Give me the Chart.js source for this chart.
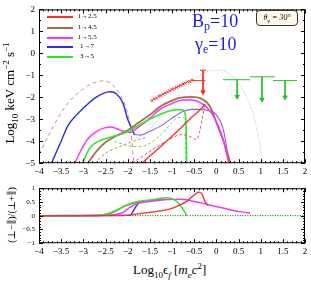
<!DOCTYPE html>
<html>
<head>
<meta charset="utf-8">
<script src="https://cdn.jsdelivr.net/npm/chart.js@4.4.0/dist/chart.umd.min.js"></script>
<style>
body { margin: 0; background: #fff; }
#wrap { position: relative; width: 311px; height: 284px; font-family: 'Liberation Serif', 'DejaVu Serif', serif; color: #000; overflow: hidden; }
#topChart { position: absolute; left: 0; top: 0; }
#botChart { position: absolute; left: 0; top: 180px; }
.lbl { position: absolute; white-space: nowrap; line-height: 1; }
.rot { transform: translate(-50%, -50%) rotate(-90deg); }
.leg { position: absolute; left: 47px; height: 9px; width: 60px; font-size: 7px; line-height: 1; }
.leg span.ln { position: absolute; left: 0; top: 3px; width: 26px; height: 2px; }
.leg span.tx { position: absolute; left: 29px; width: 22px; text-align: center; top: 0; }
.big { color: #1a1aff; font-size: 18px; }
.big sub { font-size: 12px; vertical-align: -3px; }
#theta { position: absolute; left: 256px; top: 10px; width: 40px; height: 14px; border: 1px solid #333; border-radius: 4px; background: #fdf8e8; font-size: 8px; font-style: italic; text-align: center; line-height: 14px; }
</style>
</head>
<body>
<div id="wrap">
  <canvas id="topChart" width="311" height="180"></canvas>
  <canvas id="botChart" width="311" height="80"></canvas>

  <div class="lbl rot" style="left:11px; top:93px; font-size:13px;">Log<sub style="font-size:9px">10</sub> keV cm<sup style="font-size:9px">−2</sup> s<sup style="font-size:9px">−1</sup></div>
  <div class="lbl rot" style="left:12px; top:215px; font-size:10px;">(⊥−∥)/(⊥+∥)</div>
  <div class="lbl" style="left:133px; top:262px; font-size:13px;">Log<sub style="font-size:9px">10</sub>ϵ<sub style="font-size:9px;font-style:italic">f</sub> [<i>m</i><sub style="font-size:9px;font-style:italic">e</sub><i>c</i><sup style="font-size:9px">2</sup>]</div>

  <div class="leg" style="top:13px"><span class="ln" style="background:#ff2a2a"></span><span class="tx">1→2.5</span></div>
  <div class="leg" style="top:24px"><span class="ln" style="background:#a86e40"></span><span class="tx">1→4.5</span></div>
  <div class="leg" style="top:34px"><span class="ln" style="background:#ff30ff"></span><span class="tx">1→5.5</span></div>
  <div class="leg" style="top:43px"><span class="ln" style="background:#2a2aff"></span><span class="tx">1→7</span></div>
  <div class="leg" style="top:53px"><span class="ln" style="background:#2ee82e"></span><span class="tx">3→5</span></div>

  <div class="lbl big" style="left:192px; top:12px;">B<sub>p</sub>=10</div>
  <div class="lbl big" style="left:195px; top:35px;">γ<sub>e</sub>=10</div>
  <div id="theta">θ<sub style="font-size:6px">v</sub> = 30°</div>
</div>

<script>
// top panel: log10 flux curves
const salmonDash = [[-4,-4.6],[-3.75,-3.6],[-3.5,-2.7],[-3.25,-2.05],[-3,-1.62],[-2.75,-1.33],[-2.55,-1.25],[-2.35,-1.42],[-2.15,-1.95],[-2.0,-2.75],[-1.92,-3.7],[-1.86,-5]];
const blueTop = [[-3.72,-5],[-3.5,-4.0],[-3.35,-3.3],[-3.15,-2.8],[-2.95,-2.4],[-2.75,-2.05],[-2.55,-1.82],[-2.4,-1.75],[-2.25,-1.85],[-2.1,-2.3],[-2.0,-3.0],[-1.9,-3.45],[-1.85,-3.7]];
const violetTop = [[-1.85,-3.7],[-1.7,-3.72],[-1.5,-3.55],[-1.25,-3.3],[-1,-2.95],[-0.75,-2.65],[-0.55,-2.55],[-0.35,-2.55],[-0.15,-2.62],[0,-2.8],[0.15,-3.4],[0.25,-4.5],[0.29,-5]];
const magentaTop = [[-3.19,-5],[-3.05,-4.4],[-2.9,-3.9],[-2.7,-3.55],[-2.5,-3.38],[-2.38,-3.35],[-2.25,-3.42],[-2.1,-3.55],[-1.95,-3.6],[-1.75,-3.35],[-1.5,-2.95],[-1.25,-2.52],[-1,-2.28],[-0.75,-2.12],[-0.55,-2.12],[-0.35,-2.25],[-0.15,-2.6],[0,-3.1],[0.15,-3.9],[0.28,-5]];
const brownTop = [[-2.9,-5],[-2.7,-4.45],[-2.5,-4.05],[-2.25,-3.75],[-2,-3.5],[-1.75,-3.15],[-1.5,-2.8],[-1.25,-2.4],[-1,-2.15],[-0.8,-2.02],[-0.55,-1.98],[-0.35,-2.05],[-0.15,-2.4],[0.02,-3.25],[0.18,-4.1],[0.32,-5]];
const brownDash = [[-2.75,-5],[-2.5,-4.55],[-2.25,-4.3],[-2.0,-4.1],[-1.8,-3.95],[-1.6,-3.85]];
const greenTop = [[-3.02,-5],[-2.85,-4.3],[-2.6,-3.95],[-2.35,-3.8],[-2.1,-3.65],[-1.85,-3.4],[-1.6,-3.1],[-1.35,-2.85],[-1.1,-2.65],[-0.9,-2.56],[-0.75,-2.58],[-0.7,-2.8],[-0.68,-3.5],[-0.67,-5]];
const greenDash = [[-2.3,-4.0],[-2.0,-4.2],[-1.75,-4.25],[-1.5,-4.1],[-1.25,-3.7],[-1,-3.15],[-0.85,-2.92],[-0.75,-2.92],[-0.7,-3.3],[-0.69,-5]];
const redTop = [[-1.68,-5],[-1.4,-4.5],[-1.1,-3.95],[-0.8,-3.4],[-0.55,-2.9],[-0.37,-2.58],[-0.25,-2.32]];
const redDash = [[-1.9,-5],[-1.6,-4.6],[-1.3,-4.2],[-1.0,-3.85],[-0.8,-3.7],[-0.6,-3.78],[-0.45,-3.92],[-0.38,-3.6],[-0.32,-3.0],[-0.27,-2.45]];
const greenDotted = [[-1.9,-3.95],[-1.6,-3.6],[-1.3,-3.0],[-1.0,-2.35],[-0.7,-1.6],[-0.4,-1.02],[-0.15,-0.8],[0.05,-0.77],[0.25,-0.88],[0.5,-1.38],[0.7,-2.1],[0.85,-2.9],[0.97,-4.0],[1.05,-5]];

// observed points
const obsX = [-1.45,-1.4,-1.35,-1.3,-1.25,-1.2,-1.15,-1.1,-1.05,-1.0,-0.95,-0.9,-0.85,-0.8,-0.75,-0.7,-0.65,-0.6,-0.55];
const obsY = [-2.15,-2.08,-2.04,-1.96,-1.92,-1.86,-1.8,-1.76,-1.7,-1.64,-1.6,-1.55,-1.5,-1.46,-1.4,-1.36,-1.3,-1.28,-1.22];
const redLimit = { x: -0.3, y: -1.24, xLo: -0.55, xHi: -0.25, yTop: -0.77, yArrow: -1.76 };
const greenLimX = [0.47, 1.03, 1.55];
const greenLimY = [-1.2, -1.07, -1.24];
const greenLimLo = [0.15, 0.76, 1.28];
const greenLimHi = [0.76, 1.32, 1.82];
const greenLimArrow = [-1.97, -2.1, -2.0];

// bottom panel: polarisation degree
const greenBot = [[-4,0],[-2.7,0.01],[-2.45,0.06],[-2.25,0.18],[-2.05,0.37],[-1.85,0.49],[-1.5,0.57],[-1.1,0.65],[-1.0,0.62],[-0.88,0.5],[-0.78,0.3],[-0.66,0]];
const brownBot = [[-4,0],[-2.7,0.01],[-2.45,0.07],[-2.25,0.2],[-2.05,0.36],[-1.85,0.46],[-1.5,0.54],[-1.2,0.6]];
const magentaBot = [[-4,0],[-2.6,0.01],[-2.3,0.04],[-2.1,0.12],[-1.95,0.3],[-1.8,0.43],[-1.5,0.52],[-1.1,0.59],[-0.8,0.6],[-0.5,0.52],[-0.2,0.41],[0.1,0.3],[0.35,0.2],[0.6,0.13],[0.76,0.1]];
const blueBot = [[-4,0],[-1.95,0.01],[-1.88,0.15],[-1.82,0.32],[-1.77,0.43]];
const redBot = [[-4,0],[-2.2,0],[-1.85,0.05],[-1.5,0.12],[-1.1,0.22],[-0.9,0.33],[-0.66,0.53],[-0.5,0.75],[-0.4,0.86],[-0.33,0.8],[-0.26,0.53],[-0.19,0.37]];
const zeroDotted = [[-1.95,0],[2,0]];

const xTicks = { min: -4, max: 2, step: 0.5 };

function pts(arr) { return arr.map(p => ({ x: p[0], y: p[1] })); }

function curve(arr, color, width, dash) {
    return {
        data: pts(arr), borderColor: color, borderWidth: width, borderDash: dash || [],
        showLine: true, pointRadius: 0, fill: false, cubicInterpolationMode: 'monotone'
    };
}

function limitSets(x, y, lo, hi, arrowY, color) {
    return [
        { data: pts([[lo, y], [hi, y]]), borderColor: color, borderWidth: 1, showLine: true, pointRadius: 0 },
        { data: pts([[x, y], [x, arrowY]]), borderColor: color, backgroundColor: color, borderWidth: 1, showLine: true,
          pointRadius: [0, 2.5], pointStyle: 'triangle', rotation: 180 }
    ];
}

const fmt = v => (v < 0 ? '−' : '') + Math.abs(v);

// inward ticks and frame
const frameTicks = {
    id: 'frameTicks',
    afterDraw(chart, args, opts) {
        const { ctx, chartArea: a, scales } = chart;
        ctx.save();
        ctx.strokeStyle = '#000';
        ctx.lineWidth = 1;
        ctx.strokeRect(a.left + 0.5, a.top + 0.5, a.right - a.left - 1, a.bottom - a.top - 1);
        ctx.beginPath();
        const nx = Math.round((xTicks.max - xTicks.min) / opts.xMinor);
        for (let i = 0; i <= nx; i++) {
            const v = xTicks.min + i * opts.xMinor;
            const major = Math.abs(v / opts.xMajor - Math.round(v / opts.xMajor)) < 1e-6;
            const len = major ? 4 : 2;
            const px = Math.round(scales.x.getPixelForValue(v)) + 0.5;
            ctx.moveTo(px, a.bottom); ctx.lineTo(px, a.bottom - len);
            ctx.moveTo(px, a.top); ctx.lineTo(px, a.top + len);
        }
        const ny = Math.round((scales.y.max - scales.y.min) / opts.yMinor);
        for (let i = 0; i <= ny; i++) {
            const v = scales.y.min + i * opts.yMinor;
            const major = Math.abs(v / opts.yMajor - Math.round(v / opts.yMajor)) < 1e-6;
            const len = major ? 4 : 2;
            const py = Math.round(scales.y.getPixelForValue(v)) + 0.5;
            ctx.moveTo(a.left, py); ctx.lineTo(a.left + len, py);
            ctx.moveTo(a.right, py); ctx.lineTo(a.right - len, py);
        }
        ctx.stroke();
        ctx.restore();
    }
};

const serif = "'Liberation Serif', 'DejaVu Serif', serif";

function xScale() {
    return {
        type: 'linear', min: xTicks.min, max: xTicks.max,
        grid: { display: false, drawTicks: false }, border: { display: false },
        ticks: { stepSize: xTicks.step, color: '#000', padding: 3, maxRotation: 0, autoSkip: false,
                 font: { family: serif, size: 9 }, callback: fmt }
    };
}

const topSets = [
    { data: obsX.map((x, i) => ({ x: x, y: obsY[i] })), showLine: false, pointStyle: 'crossRot',
      pointRadius: 2, borderColor: '#ff2a2a', borderWidth: 1 },
    { data: pts([[redLimit.xLo, redLimit.y], [redLimit.xHi, redLimit.y]]), borderColor: '#ff2a2a', borderWidth: 1, showLine: true, pointRadius: 0 },
    { data: pts([[redLimit.x - 0.07, redLimit.yTop], [redLimit.x + 0.07, redLimit.yTop]]), borderColor: '#ff2a2a', borderWidth: 1, showLine: true, pointRadius: 0 },
    { data: pts([[redLimit.x, redLimit.yTop], [redLimit.x, redLimit.yArrow]]), borderColor: '#ff2a2a', backgroundColor: '#ff2a2a',
      borderWidth: 1, showLine: true, pointRadius: [0, 2.5], pointStyle: 'triangle', rotation: 180 },
    curve(redTop, '#ff2a2a', 1.3),
    curve(redDash, '#ff5050', 1, [3, 2]),
    curve(greenTop, '#2ee82e', 1.6),
    curve(magentaTop, '#ff30ff', 1.5),
    curve(brownTop, '#a86e40', 1.8),
    curve(blueTop, '#2a2aff', 1.4),
    curve(violetTop, '#9a55ee', 1.1),
    curve(greenDash, '#60e060', 1, [3, 2]),
    curve(brownDash, '#c09070', 1, [3, 2]),
    curve(salmonDash, '#e08888', 1, [4, 3]),
    curve(greenDotted, '#90e090', 1, [1, 1.5])
];
greenLimX.forEach((x, i) => {
    topSets.push(...limitSets(x, greenLimY[i], greenLimLo[i], greenLimHi[i], greenLimArrow[i], '#28c028'));
});

new Chart(document.getElementById('topChart'), {
    type: 'scatter',
    data: { datasets: topSets },
    options: {
        responsive: false, animation: false,
        layout: { padding: { left: 0, right: 6, top: 5, bottom: 0 } },
        plugins: { legend: { display: false }, tooltip: { enabled: false },
                   frameTicks: { xMinor: 0.1, xMajor: 0.5, yMinor: 0.5, yMajor: 1 } },
        scales: {
            x: xScale(),
            y: {
                min: -5, max: 2, afterFit: s => { s.width = 39; },
                grid: { display: false, drawTicks: false }, border: { display: false },
                ticks: { stepSize: 1, color: '#000', padding: 4, font: { family: serif, size: 9 }, callback: fmt }
            }
        }
    },
    plugins: [frameTicks]
});

const botSets = [
    curve(redBot, '#ff2a2a', 1.3),
    curve(greenBot, '#2ee82e', 1.5),
    curve(magentaBot, '#ff30ff', 1.5),
    curve(blueBot, '#2a2aff', 1.4),
    curve(brownBot, '#a86e40', 1.5),
    curve(zeroDotted, '#109010', 1.2, [1, 1.5])
];

new Chart(document.getElementById('botChart'), {
    type: 'scatter',
    data: { datasets: botSets },
    options: {
        responsive: false, animation: false,
        layout: { padding: { left: 0, right: 6, top: 2, bottom: 0 } },
        plugins: { legend: { display: false }, tooltip: { enabled: false },
                   frameTicks: { xMinor: 0.1, xMajor: 0.5, yMinor: 0.1, yMajor: 0.5 } },
        scales: {
            x: xScale(),
            y: {
                min: -1, max: 1, afterFit: s => { s.width = 39; },
                grid: { display: false, drawTicks: false }, border: { display: false },
                ticks: { stepSize: 0.5, color: '#000', padding: 4, font: { family: serif, size: 7 }, callback: fmt }
            }
        }
    },
    plugins: [frameTicks]
});
</script>
</body>
</html>
